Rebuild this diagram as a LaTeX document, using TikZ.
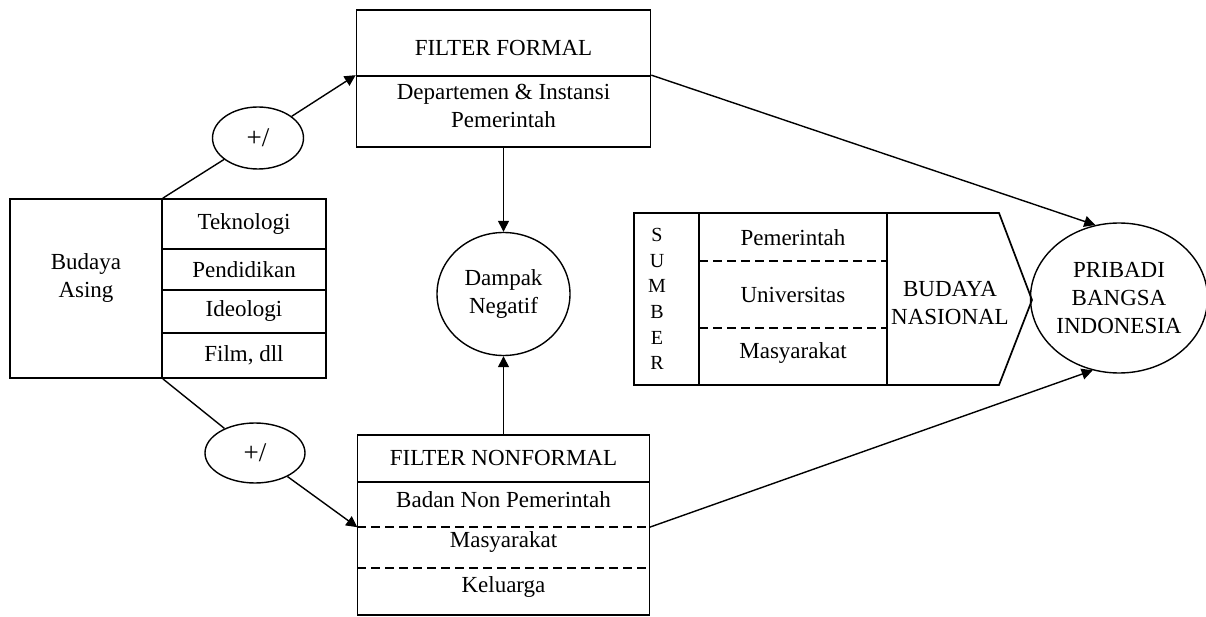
\documentclass[tikz,border=0pt]{standalone}
\usepackage{fontspec}
\setmainfont{Liberation Serif}
\usetikzlibrary{arrows.meta,shapes.geometric}

\tikzset{
  txt/.style={font=\fontsize{23}{28}\selectfont, align=center, inner sep=0pt},
  small/.style={font=\fontsize{20}{25.6}\selectfont, align=center, inner sep=0pt},
  sign/.style={font=\fontsize{27}{30}\selectfont},
  cell/.style={draw, line width=1.7pt, inner sep=0pt},
  dsh/.style={line width=1.7pt, dash pattern=on 9pt off 5pt},
  link/.style={line width=1.4pt},
  arr/.style={link, -{Triangle[length=11pt,width=11pt]}},
  oval/.style={draw, ellipse, line width=1.4pt, inner sep=0pt},
}

\begin{document}
\begin{tikzpicture}[x=1pt,y=-1pt]
\useasboundingbox (0,0) rectangle (1206,617);

% Budaya Asing block
\node[cell, minimum width=152pt, minimum height=179pt] (asing) at (86,288.5) {};
\node[txt] (asingtxt) at (86,278) {Budaya\\Asing};
\node[cell, txt, minimum width=164pt, minimum height=50pt] (tek)  at (244,224)   {Teknologi};
\node[cell, txt, minimum width=164pt, minimum height=41pt] (pend) at (244,269.5) {Pendidikan};
\node[cell, txt, minimum width=164pt, minimum height=43pt] (ideo) at (244,311.5) {Ideologi};
\node[cell, txt, minimum width=164pt, minimum height=45pt] (film) at (244,355.5) {Film, dll};

% +/ ovals
\node[oval, sign, minimum width=91pt, minimum height=62pt] (plusA) at (258,138) {+/};
\node[oval, sign, minimum width=100pt, minimum height=60pt] (plusB) at (255,453) {+/};

% FILTER FORMAL
\node[cell, minimum width=294pt, minimum height=66pt] (ftitle) at (503.5,43) {};
\node[txt] (ftitletxt) at (503.5,48) {FILTER FORMAL};
\node[cell, minimum width=294pt, minimum height=71pt] (fbody) at (503.5,111.5) {};
\node[txt] (fbodytxt) at (503.5,106) {Departemen \& Instansi\\Pemerintah};

% Dampak Negatif
\node[oval, minimum width=133pt, minimum height=123pt, txt] (dampak) at (503.5,294) {Dampak\\Negatif};

% FILTER NONFORMAL
\node[cell, minimum width=292pt, minimum height=47pt] (ntitle) at (503.5,458.5) {};
\node[txt] (ntitletxt) at (503.5,458) {FILTER NONFORMAL};
\node[cell, minimum width=292pt, minimum height=133pt] (nbody) at (503.5,548.5) {};
\node[minimum width=292pt, minimum height=45pt, inner sep=0pt] (badanrow) at (503.5,504.5) {};
\node[minimum width=292pt, minimum height=41pt, inner sep=0pt] (masyrow) at (503.5,547.5) {};
\draw[dsh] (badanrow.south west) -- (badanrow.south east);
\draw[dsh] (masyrow.south west) -- (masyrow.south east);
\node[txt] (badan) at (503.5,500) {Badan Non Pemerintah};
\node[txt] (nmasy) at (503.5,542) {Masyarakat};
\node[txt] (kel) at (503.5,587) {Keluarga};

% SUMBER / BUDAYA NASIONAL block
\draw[line width=1.7pt] (634,213) -- (999,213) -- (1032,300) -- (999,385) -- (634,385) -- cycle;
\draw[line width=1.7pt] (699,213) -- (699,385);
\draw[line width=1.7pt] (887,213) -- (887,385);
\draw[dsh] (699,261) -- (887,261);
\draw[dsh] (699,328) -- (887,328);
\node[small] (sumber) at (657,299) {S\\U\\M\\B\\E\\R};
\node[txt] (spem) at (793,238) {Pemerintah};
\node[txt] (suniv) at (793,295) {Universitas};
\node[txt] (smasy) at (793,353) {Masyarakat};
\node[txt] (bnas) at (950,303) {BUDAYA\\NASIONAL};

% PRIBADI BANGSA INDONESIA
\node[oval, minimum width=172pt, minimum height=150pt, txt] (pribadi) at (1119,298) {PRIBADI\\BANGSA\\INDONESIA};

% connectors
\draw[link] (asing.north east) -- (plusA);
\draw[arr] (plusA) -- (fbody.north west);
\draw[link] (asing.south east) -- (plusB);
\draw[arr] (plusB) -- (badanrow.south west);
\draw[arr] (fbody.south) -- (dampak.north);
\draw[arr] (ntitle.north) -- (dampak.south);
\draw[arr] (fbody.north east) -- (pribadi.108);
\draw[arr] (badanrow.south east) -- (pribadi.250);
\end{tikzpicture}
\end{document}
